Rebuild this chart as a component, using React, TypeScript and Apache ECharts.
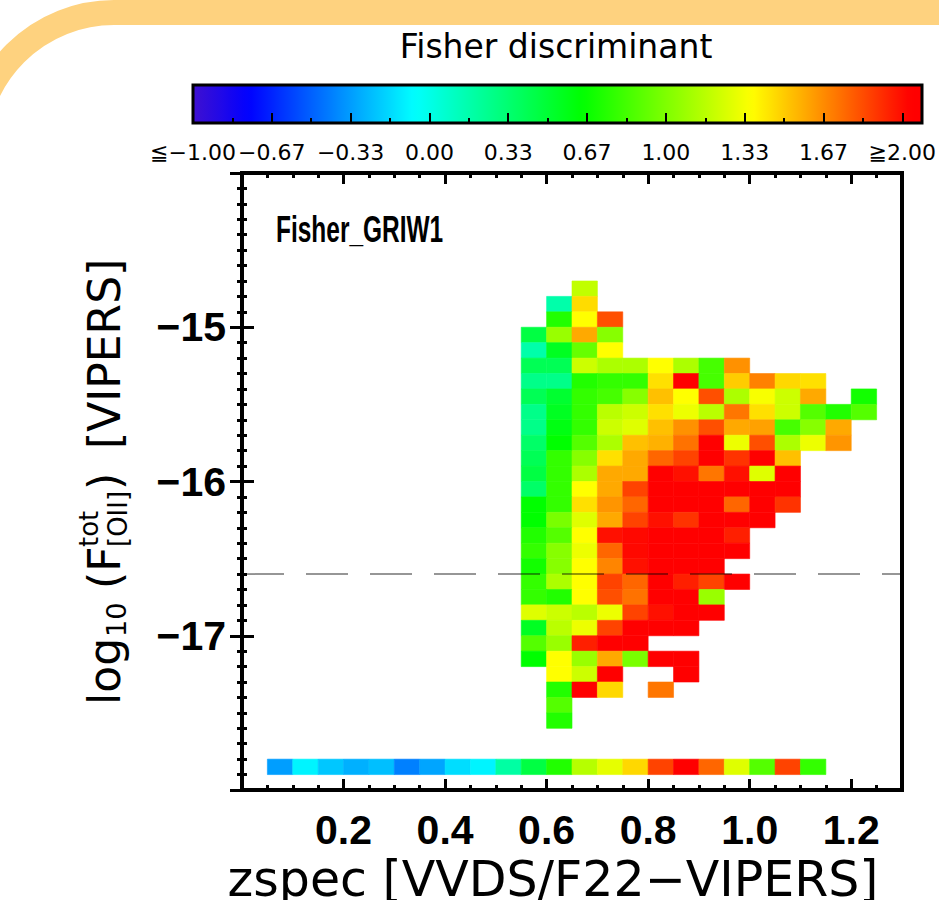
import React, { useEffect, useRef } from 'react';
import * as echarts from 'echarts';

// Bin sizes of the map (redshift and log flux)
const Z_BIN = 0.05;
const FLUX_BIN = 0.1;

// Lower redshift edge of each column of the main map
const zColumns = [0.55, 0.6, 0.65, 0.7, 0.75, 0.8, 0.85, 0.9, 0.95, 1.0, 1.05, 1.1, 1.15, 1.2];

// Lower log10 flux edge of each row, brightest first
const fluxRows = [
  -14.8, -14.9, -15.0, -15.1, -15.2, -15.3, -15.4, -15.5, -15.6, -15.7,
  -15.8, -15.9, -16.0, -16.1, -16.2, -16.3, -16.4, -16.5, -16.6, -16.7,
  -16.8, -16.9, -17.0, -17.1, -17.2, -17.3, -17.4, -17.5, -17.6,
];

// Mean Fisher discriminant per cell (null = empty bin)
const _ = null;
const fisherGrid: (number | null)[][] = [
  /* -14.8 */ [_, _, 1.13],
  /* -14.9 */ [_, 0.14, 1.39],
  /* -15.0 */ [_, 0.69, 1.3, 1.75],
  /* -15.1 */ [0.42, 1.02, 1.52, 0.97],
  /* -15.2 */ [0.14, 0.51, 0.88, 1.3],
  /* -15.3 */ [0.37, 0.37, 1.16, 1.07, 1.07, 1.3, 1.07, 0.79, 1.58],
  /* -15.4 */ [0.23, 0.23, 0.69, 0.74, 0.74, 1.38, 2.0, 0.79, 1.43, 1.62, 1.4, 1.38],
  /* -15.5 */ [0.37, 0.47, 0.74, 0.79, 0.97, 1.46, 1.3, 1.75, 1.07, 1.28, 1.16, 1.52, _, 0.65],
  /* -15.6 */ [0.23, 0.51, 0.74, 1.11, 1.16, 1.38, 1.25, 1.11, 1.65, 1.38, 1.16, 0.83, 0.69, 0.83],
  /* -15.7 */ [0.23, 0.55, 0.74, 1.16, 1.21, 1.46, 1.58, 1.75, 1.52, 1.54, 0.79, 0.97, 1.52],
  /* -15.8 */ [0.32, 0.6, 0.83, 1.07, 1.46, 1.5, 1.66, 2.0, 1.25, 1.75, 1.07, 1.25, 1.57],
  /* -15.9 */ [0.37, 0.74, 0.97, 1.38, 1.52, 1.69, 1.78, 2.0, 1.82, 2.0, 1.46],
  /* -16.0 */ [0.42, 0.74, 1.07, 1.52, 1.52, 2.0, 1.91, 1.65, 1.91, 1.21, 2.0],
  /* -16.1 */ [0.32, 0.74, 1.3, 1.52, 1.78, 2.0, 2.0, 2.0, 2.0, 2.0, 2.0],
  /* -16.2 */ [0.6, 0.74, 1.38, 1.57, 1.69, 2.0, 2.0, 2.0, 1.69, 2.0, 1.82],
  /* -16.3 */ [0.6, 0.93, 1.21, 1.52, 1.78, 1.91, 1.82, 2.0, 2.0, 2.0],
  /* -16.4 */ [0.69, 0.83, 1.3, 1.91, 1.93, 2.0, 2.0, 2.0, 1.87],
  /* -16.5 */ [0.74, 0.97, 1.25, 1.69, 1.93, 2.0, 2.0, 2.0, 2.0],
  /* -16.6 */ [0.65, 0.97, 1.3, 1.61, 1.91, 2.0, 2.0, 2.0],
  /* -16.7 */ [0.74, 1.07, 1.3, 1.78, 1.69, 2.0, 1.87, 1.78, 2.0],
  /* -16.8 */ [0.74, 0.69, 1.3, 1.75, 1.66, 2.0, 2.0, 1.02],
  /* -16.9 */ [1.21, 1.16, 1.11, 1.25, 1.78, 1.91, 2.0, 2.0],
  /* -17.0 */ [0.51, 1.11, 1.25, 1.78, 2.0, 2.0, 2.0],
  /* -17.1 */ [0.83, 1.02, 1.87, 2.0, 2.0],
  /* -17.2 */ [0.6, 1.3, 1.02, 1.52, 0.93, 2.0, 2.0],
  /* -17.3 */ [_, 1.3, 1.16, 2.0, _, _, 2.0],
  /* -17.4 */ [_, 0.69, 2.0, 1.4, _, 1.65],
  /* -17.5 */ [_, 0.83],
  /* -17.6 */ [_, 0.69],
];

// Faint row (objects without a usable flux), one bin per redshift column
const stripFlux = -17.9;
const stripZ = [
  0.05, 0.1, 0.15, 0.2, 0.25, 0.3, 0.35, 0.4, 0.45, 0.5, 0.55,
  0.6, 0.65, 0.7, 0.75, 0.8, 0.85, 0.9, 0.95, 1.0, 1.05, 1.1,
];
const stripFisher = [
  -0.35, -0.12, -0.24, -0.3, -0.26, -0.43, -0.33, -0.18, -0.12, 0.16, 0.42,
  0.69, 1.1, 1.23, 1.4, 1.78, 2.0, 1.69, 1.21, 0.83, 1.78, 0.74,
];

// Selection threshold in flux
const fluxLimit = -16.6;

// Tick labels
const xTickValues = [0.2, 0.4, 0.6, 0.8, 1.0, 1.2];
const xTickLabels = ['0.2', '0.4', '0.6', '0.8', '1.0', '1.2'];
const yTickValues = [-17, -16, -15];
const yTickLabels = ['\u221217', '\u221216', '\u221215'];
const colourbarLabels = [
  '\u2266\u22121.00', '\u22120.67', '\u22120.33', '0.00', '0.33',
  '0.67', '1.00', '1.33', '1.67', '\u22672.00',
];

// Colour table anchors (value, colour)
const colourStops: [number, string][] = [
  [-1, '#4010d0'],
  [-0.77, '#0000ff'],
  [-0.09, '#00ffff'],
  [0.6, '#00ff00'],
  [1.3, '#ffff00'],
  [1.95, '#ff0000'],
  [2, '#ff0000'],
];

function hexToRgb(h: string) {
  const n = parseInt(h.slice(1), 16);
  return [(n >> 16) & 255, (n >> 8) & 255, n & 255];
}

function colourAt(v: number) {
  for (let i = 0; i < colourStops.length - 1; i++) {
    const [v0, c0] = colourStops[i];
    const [v1, c1] = colourStops[i + 1];
    if (v <= v1 + 1e-9) {
      const t = Math.max(0, Math.min(1, (v - v0) / (v1 - v0)));
      const a = hexToRgb(c0);
      const b = hexToRgb(c1);
      const m = a.map((x, k) => Math.round(x + (b[k] - x) * t));
      return `rgb(${m[0]},${m[1]},${m[2]})`;
    }
  }
  return colourStops[colourStops.length - 1][1];
}

const palette = Array.from({ length: 151 }, (_v, i) => colourAt(-1 + i * 0.02));

function labelFor(values: number[], labels: string[]) {
  return (v: number) => {
    const i = values.findIndex((t) => Math.abs(t - v) < 1e-6);
    return i >= 0 ? labels[i] : '';
  };
}

const TICK_FONT = {
  fontFamily: 'Liberation Sans',
  fontWeight: 'bold' as const,
  fontSize: 41,
  lineHeight: 30,
  color: '#000',
};

export default function App() {
  const ref = useRef<HTMLDivElement>(null);

  useEffect(() => {
    if (!ref.current) return;
    const chart = echarts.init(ref.current, undefined, { renderer: 'svg' });

    const cells: number[][] = [];
    fisherGrid.forEach((row, i) =>
      row.forEach((v, j) => {
        if (v !== null) cells.push([zColumns[j], fluxRows[i], v]);
      })
    );
    stripFisher.forEach((v, j) => cells.push([stripZ[j], stripFlux, v]));

    const majorX = (position: 'bottom' | 'top', labels: boolean) => ({
      gridIndex: 0,
      type: 'value',
      position,
      min: 0,
      max: 1.3,
      interval: 0.2,
      axisLine: { show: false },
      axisTick: { show: true, inside: true, length: 11, lineStyle: { color: '#000', width: 3 } },
      axisLabel: labels
        ? { show: true, ...TICK_FONT, margin: 25, formatter: labelFor(xTickValues, xTickLabels) }
        : { show: false },
      splitLine: { show: false },
    });
    const minorX = (position: 'bottom' | 'top') => ({
      gridIndex: 0,
      type: 'value',
      position,
      min: 0,
      max: 1.3,
      interval: 0.05,
      axisLine: { show: false },
      axisTick: { show: true, inside: true, length: 5, lineStyle: { color: '#000', width: 3 } },
      axisLabel: { show: false },
      splitLine: { show: false },
    });
    const majorY = (position: 'left' | 'right', labels: boolean) => ({
      gridIndex: 0,
      type: 'value',
      position,
      min: -18,
      max: -14,
      interval: 1,
      axisLine: { show: false },
      axisTick: { show: true, inside: true, length: 12, lineStyle: { color: '#000', width: 3 } },
      axisLabel: labels
        ? { show: true, ...TICK_FONT, margin: 16, formatter: labelFor(yTickValues, yTickLabels) }
        : { show: false },
      splitLine: { show: false },
    });
    const minorY = (position: 'left' | 'right', inside: boolean, length: number) => ({
      gridIndex: 0,
      type: 'value',
      position,
      min: -18,
      max: -14,
      interval: 0.1,
      axisLine: { show: false },
      axisTick: { show: true, inside, length, lineStyle: { color: '#000', width: 3 } },
      axisLabel: { show: false },
      splitLine: { show: false },
    });

    const yTitlePieces = [
      { text: 'log', x: 0, y: 0, size: 44 },
      { text: '10', x: 68, y: 12, size: 27 },
      { text: '(F', x: 116, y: 0, size: 44 },
      { text: 'tot', x: 158, y: -15, size: 26 },
      { text: '[OII]', x: 158, y: 14, size: 26 },
      { text: ')', x: 215, y: 0, size: 44 },
      { text: '[VIPERS]', x: 256, y: 0, size: 44 },
    ];

    const option: any = {
      animation: false,
      backgroundColor: '#ffffff',
      grid: [
        { left: 242, top: 173, width: 660, height: 617, show: false },
        { left: 193, top: 85, width: 729, height: 38, show: false },
      ],
      xAxis: [
        majorX('bottom', true),
        majorX('top', false),
        minorX('bottom'),
        minorX('top'),
        {
          gridIndex: 1,
          type: 'value',
          position: 'bottom',
          min: 0,
          max: 18,
          interval: 2,
          axisLine: { show: false },
          axisTick: { show: true, inside: true, length: 10, lineStyle: { color: '#000', width: 2 } },
          minorTick: { show: true, splitNumber: 2, length: 5, lineStyle: { color: '#000', width: 2 } },
          axisLabel: {
            show: true,
            fontFamily: 'DejaVu Sans',
            fontSize: 22,
            lineHeight: 20,
            color: '#000',
            margin: 19,
            interval: 0,
            hideOverlap: false,
            showMinLabel: true,
            showMaxLabel: true,
            formatter: (v: number) => colourbarLabels[Math.round(v / 2)] ?? '',
          },
          splitLine: { show: false },
          z: 10,
        },
      ],
      yAxis: [
        majorY('left', true),
        majorY('right', false),
        minorY('left', true, 5),
        minorY('right', true, 5),
        minorY('left', false, 3),
        { gridIndex: 1, type: 'value', min: 0, max: 1, show: false },
      ],
      visualMap: {
        type: 'continuous',
        seriesIndex: 0,
        dimension: 2,
        min: -1,
        max: 2,
        orient: 'horizontal',
        left: 193,
        top: 85,
        padding: 0,
        itemWidth: 38,
        itemHeight: 729,
        calculable: false,
        realtime: false,
        hoverLink: false,
        showLabel: false,
        inRange: { color: palette },
      },
      series: [
        {
          type: 'custom',
          coordinateSystem: 'cartesian2d',
          xAxisIndex: 0,
          yAxisIndex: 0,
          dimensions: ['z', 'flux', 'fisher'],
          encode: { x: 0, y: 1 },
          data: cells,
          silent: true,
          z: 2,
          renderItem: (_params: any, api: any) => {
            const z0 = api.value(0);
            const f0 = api.value(1);
            const p0 = api.coord([z0, f0 + FLUX_BIN]);
            const p1 = api.coord([z0 + Z_BIN, f0]);
            const colour = api.visual('color');
            return {
              type: 'rect',
              shape: { x: p0[0], y: p0[1], width: p1[0] - p0[0], height: p1[1] - p0[1] },
              style: { fill: colour, stroke: colour, lineWidth: 0.6 },
            };
          },
        },
        {
          type: 'line',
          xAxisIndex: 0,
          yAxisIndex: 0,
          data: [
            [0, fluxLimit],
            [1.3, fluxLimit],
          ],
          symbol: 'none',
          silent: true,
          z: 5,
          lineStyle: { color: 'rgba(0,0,0,0.55)', width: 1.5, type: [42, 22] },
        },
      ],
      graphic: [
        {
          type: 'rect',
          silent: true,
          z: -10,
          shape: { x: -25.5, y: 12.5, width: 2200, height: 2200, r: 139.5 },
          style: { fill: 'none', stroke: '#fed27f', lineWidth: 25 },
        },
        {
          type: 'rect',
          silent: true,
          z: 50,
          shape: { x: 242, y: 173, width: 660, height: 617 },
          style: { fill: 'none', stroke: '#000', lineWidth: 4 },
        },
        {
          type: 'rect',
          silent: true,
          z: 50,
          shape: { x: 193, y: 85, width: 729, height: 38 },
          style: { fill: 'none', stroke: '#000', lineWidth: 3 },
        },
        {
          type: 'text',
          silent: true,
          z: 50,
          x: 556,
          y: 46,
          style: {
            text: 'Fisher discriminant',
            fontFamily: 'DejaVu Sans',
            fontSize: 33,
            fill: '#000',
            align: 'center',
            verticalAlign: 'middle',
          },
        },
        {
          type: 'text',
          silent: true,
          z: 50,
          x: 276,
          y: 230,
          scaleX: 0.68,
          style: {
            text: 'Fisher_GRIW1',
            fontFamily: 'Liberation Sans',
            fontWeight: 'bold',
            fontSize: 36,
            fill: '#000',
            align: 'left',
            verticalAlign: 'middle',
          },
        },
        {
          type: 'text',
          silent: true,
          z: 50,
          x: 553,
          y: 879,
          style: {
            text: 'zspec [VVDS/F22\u2212VIPERS]',
            fontFamily: 'DejaVu Sans',
            fontSize: 49,
            lineHeight: 40,
            fill: '#000',
            align: 'center',
            verticalAlign: 'middle',
          },
        },
        {
          type: 'group',
          silent: true,
          z: 50,
          x: 104,
          y: 705,
          rotation: Math.PI / 2,
          children: yTitlePieces.map((p) => ({
            type: 'text',
            x: p.x,
            y: p.y,
            style: {
              text: p.text,
              fontFamily: 'DejaVu Sans',
              fontSize: p.size,
              fill: '#000',
              align: 'left',
              verticalAlign: 'middle',
            },
          })),
        },
      ],
    };

    chart.setOption(option);
    return () => chart.dispose();
  }, []);

  return (
    <div
      ref={ref}
      style={{ position: 'fixed', left: 0, top: 0, width: 939, height: 900, background: '#fff' }}
    />
  );
}
